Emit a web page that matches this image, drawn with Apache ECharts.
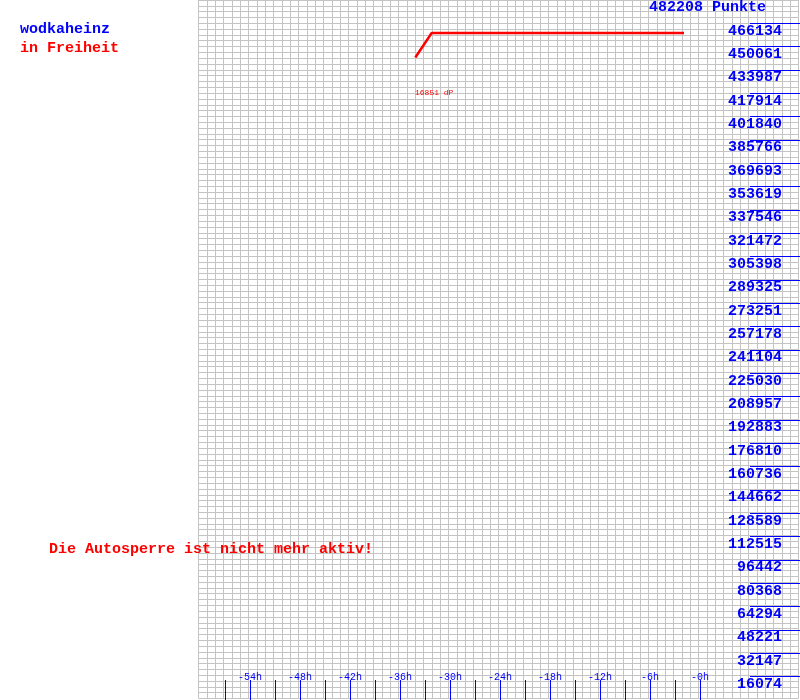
<!DOCTYPE html>
<html>
<head>
<meta charset="utf-8">
<script src="https://cdn.jsdelivr.net/npm/echarts@6/dist/echarts.min.js"></script>
<style>html,body{margin:0;padding:0;background:#fff}#c{width:800px;height:700px}</style>
</head>
<body>
<div id="c"></div>
<script>
// ---- data ----
const hours = [-34.16, -32.2, -1.92];
const points = [442624, 459475, 459475];
const yMax = 482208;
const yTickLabels = ['16074','32147','48221','64294','80368','96442','112515','128589','144662','160736','176810','192883','208957','225030','241104','257178','273251','289325','305398','321472','337546','353619','369693','385766','401840','417914','433987','450061','466134'];
const xLabelHours = [-54,-48,-42,-36,-30,-24,-18,-12,-6,0];
const xLabelTexts = ['-54h','-48h','-42h','-36h','-30h','-24h','-18h','-12h','-6h','-0h'];
const playerName = 'wodkaheinz';
const playerStatus = 'in Freiheit';
const totalText = '482208 Punkte';
const deltaText = '16851 dP';
const noteText = 'Die Autosperre ist nicht mehr aktiv!';

const BLUE = '#0000ff', RED = '#ff0000', GRAY = '#c4c4c4';
const MONO = '"Liberation Mono", "DejaVu Sans Mono", monospace';
const yStep = yMax / (yTickLabels.length + 1);
const xStep = 3;

const hidden = {axisLine: {show: false}, axisTick: {show: false}, axisLabel: {show: false}};
const tStyle = (c, s, w) => ({fontFamily: MONO, fontSize: s, fontWeight: w, color: c});

const chart = echarts.init(document.getElementById('c'), null, {renderer: 'canvas'});
chart.setOption({
  animation: false,
  backgroundColor: '#ffffff',
  title: [
    {text: totalText, left: 649, top: 0, padding: 0, zlevel: 1, textStyle: tStyle(BLUE, 15, 'bold')},
    {text: playerName, left: 20, top: 22, padding: 0, zlevel: 1, textStyle: tStyle(BLUE, 15, 'bold')},
    {text: playerStatus, left: 20, top: 41, padding: 0, zlevel: 1, textStyle: tStyle(RED, 15, 'bold')},
    {text: noteText, left: 49, top: 542, padding: 0, zlevel: 1, textStyle: tStyle(RED, 15, 'bold')},
    {text: deltaText, left: 415, top: 89, padding: 0, zlevel: 1, textStyle: tStyle(RED, 8, 'normal')}
  ],
  grid: [
    {left: 198.67, top: -0.5, width: 600, height: 699},      // gray paper grid
    {left: 200, top: 0, width: 600, height: 700},            // data
    {left: 750, top: 700 / 30, width: 50, height: 700 * 28 / 30}, // blue value ticks
    {left: 225, bottom: 0, width: 475, height: 20}            // blue hour ticks
  ],
  xAxis: [
    Object.assign({gridIndex: 0, type: 'value', min: -60, max: 12, interval: 1, zlevel: 0,
      splitLine: {show: true, lineStyle: {color: GRAY, width: 1}}}, hidden),
    Object.assign({gridIndex: 1, type: 'value', min: -60, max: 12, splitLine: {show: false}}, hidden),
    Object.assign({gridIndex: 2, type: 'value', min: 0, max: 1, splitLine: {show: false}}, hidden),
    {gridIndex: 3, type: 'value', min: -57, max: 0, interval: xStep, position: 'bottom', zlevel: 1,
     axisLine: {show: false}, axisTick: {show: false},
     splitLine: {show: true, lineStyle: {color: BLUE, width: 1}},
     axisLabel: {show: true, inside: true, margin: 23, verticalAlign: 'middle',
       fontFamily: MONO, fontSize: 10, color: BLUE, showMinLabel: true, showMaxLabel: true,
       formatter: v => { const i = xLabelHours.indexOf(Math.round(v)); return i >= 0 ? xLabelTexts[i] : ''; }}}
  ],
  yAxis: [
    Object.assign({gridIndex: 0, type: 'value', min: 0, max: 120, interval: 1, zlevel: 0,
      splitLine: {show: true, lineStyle: {color: GRAY, width: 1}}}, hidden),
    Object.assign({gridIndex: 1, type: 'value', min: 0, max: yMax, splitLine: {show: false}}, hidden),
    {gridIndex: 2, type: 'value', min: yStep, max: yStep * yTickLabels.length, interval: yStep, position: 'right', zlevel: 1,
     axisLine: {show: false}, axisTick: {show: false},
     splitLine: {show: true, lineStyle: {color: BLUE, width: 1}},
     axisLabel: {show: true, inside: true, margin: 18, verticalAlign: 'top', showMinLabel: true, showMaxLabel: true,
       fontFamily: MONO, fontSize: 15, fontWeight: 'bold', color: BLUE,
       formatter: v => { const i = Math.round(v / yStep) - 1; return yTickLabels[i] || ''; }}},
    Object.assign({gridIndex: 3, type: 'value', min: 0, max: 1, splitLine: {show: false}}, hidden)
  ],
  series: [
    {type: 'line', xAxisIndex: 1, yAxisIndex: 1, showSymbol: false, symbol: 'none', zlevel: 1,
     lineStyle: {color: RED, width: 2.5}, itemStyle: {color: RED},
     data: hours.map((h, i) => [h, points[i]])}
  ]
});
</script>
</body>
</html>
